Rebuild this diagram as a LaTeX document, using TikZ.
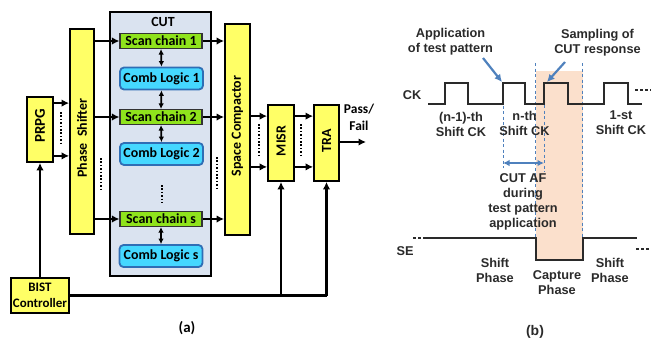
\documentclass[tikz,border=0pt]{standalone}
\usepackage{fontspec}
\setmainfont{Carlito}
\newfontfamily\arialb{Liberation Sans}
\usetikzlibrary{arrows.meta}
\definecolor{ybox}{HTML}{FFFF66}
\definecolor{gbox}{HTML}{8FE31C}
\definecolor{cbox}{HTML}{45D8FF}
\definecolor{cedge}{HTML}{2F6EB5}
\definecolor{cutfill}{HTML}{DAE3F0}
\definecolor{orshade}{HTML}{FBE0CC}
\definecolor{bluearr}{HTML}{4F81BD}
\definecolor{wave}{HTML}{2A2A2A}
\begin{document}
\begin{tikzpicture}[x=1bp,y=-1bp,
  lf/.style={font=\bfseries\fontsize{14}{16.5}\selectfont},
  rf/.style={font=\arialb\bfseries\fontsize{12.8}{15}\selectfont, text=wave, align=center, inner sep=0},
  ybx/.style={draw=black, line width=1.8bp, fill=ybox, inner sep=0},
  scx/.style={draw=black!80, line width=1.2bp, fill=gbox, inner sep=0, minimum width=82bp, minimum height=15bp, lf},
  clx/.style={draw=cedge, line width=1.8bp, fill=cbox, rounded corners=4bp, inner sep=0, minimum width=83bp, minimum height=22bp, lf},
  arr/.style={line width=2.3bp, -{Latex[length=7.5bp,width=7.5bp]}},
  biarr/.style={line width=1.7bp, {Latex[length=5.5bp,width=5.5bp]}-{Latex[length=5.5bp,width=5.5bp]}},
  ln/.style={line width=2.3bp},
  dots/.style={line width=2.5bp, dash pattern=on 1.6bp off 1.8bp},
  bdash/.style={draw=bluearr, line width=1bp, dash pattern=on 3bp off 2.5bp},
  barr/.style={draw=bluearr, line width=2.2bp, -{Latex[length=7.5bp,width=7.5bp]}},
  wv/.style={draw=wave, line width=1.9bp}]
\useasboundingbox (0,0) rectangle (651,340);
% ---------- (a) ----------
\node[draw=black, line width=1.8bp, fill=cutfill, minimum width=101bp, minimum height=264bp, inner sep=0] (cut) at (160.5,144) {};
\node[lf] (cutl) at (163,22) {CUT};
\node[scx] (sc1) at (161,41) {Scan chain 1};
\node[clx] (cl1) at (161.5,78.5) {Comb Logic 1};
\node[scx] (sc2) at (161,117) {Scan chain 2};
\node[clx] (cl2) at (161.5,154) {Comb Logic 2};
\node[scx] (scs) at (161,219) {Scan chain s};
\node[clx] (cls) at (161,256) {Comb Logic s};
\draw[biarr] (sc1.south) -- (cl1.north);
\draw[biarr] (cl1.south) -- (sc2.north);
\draw[biarr] (sc2.south) -- (cl2.north);
\draw[biarr] (scs.south) -- (cls.north);
\draw[dots] (162,185) -- (162,203);

\node[ybx, minimum width=24bp, minimum height=205bp] (ps) at (82,131.5) {};
\node[lf, rotate=90] (psl) at (82,138) {Phase\ \ Shifter};
\node[ybx, minimum width=26bp, minimum height=65bp] (prpg) at (40,129.5) {};
\node[lf, rotate=90, font=\bfseries\fontsize{15}{16.5}\selectfont] (prpgl) at (40,126) {PRPG};
\node[ybx, minimum width=58bp, minimum height=35bp, align=center, lf, font=\bfseries\fontsize{13}{16.5}\selectfont] (bist) at (40,295.5) {BIST\\Controller};
\node[ybx, minimum width=25bp, minimum height=211bp] (sco) at (237.5,129.5) {};
\node[lf, rotate=90] (scol) at (237.5,126) {Space Compactor};
\node[ybx, minimum width=26bp, minimum height=76bp] (misr) at (281,143) {};
\node[lf, rotate=90] (misrl) at (281,141) {MISR};
\node[ybx, minimum width=25bp, minimum height=76bp] (tra) at (326.5,143) {};
\node[lf, rotate=90] (tral) at (326.5,141) {TRA};
\node[lf, align=center, font=\bfseries\fontsize{13.5}{17}\selectfont] (pf) at (359,117) {Pass/\\Fail};
\coordinate (out) at (366,142);

\coordinate (p1) at ([yshift=-7bp]prpg.north east);
\coordinate (p2) at ([yshift=7bp]prpg.south east);
\draw[arr] (p1) -- (ps.west |- p1);
\draw[arr] (p2) -- (ps.west |- p2);
\draw[dots] (61,112) -- (61,144);
\foreach \s in {sc1,sc2,scs}{
  \draw[arr] (ps.east |- \s.west) -- (\s.west);
  \draw[arr] (\s.east) -- (sco.west |- \s.east);
}
\draw[dots] (101,158) -- (101,192);
\draw[dots] (217,157) -- (217,189);
\coordinate (m1) at ([yshift=-12bp]misr.north west);
\coordinate (m2) at ([yshift=15bp]misr.south west);
\coordinate (t1) at ([yshift=-12bp]tra.north west);
\coordinate (t2) at ([yshift=15bp]tra.south west);
\draw[arr] (sco.east |- m1) -- (m1);
\draw[arr] (sco.east |- m2) -- (m2);
\draw[arr] (misr.east |- t1) -- (t1);
\draw[arr] (misr.east |- t2) -- (t2);
\draw[dots] (259,124) -- (259,158);
\draw[dots] (301,124) -- (301,158);
\draw[arr] (tra.east |- out) -- (out);
\draw[arr] (bist.north) -- (prpg.south);
\coordinate (j1) at (misr.south |- bist.east);
\coordinate (j2) at (tra.south |- bist.east);
\draw[ln] (bist.east) -- (j2);
\draw[arr] (j1) -- (misr.south);
\draw[arr] (j2) -- (tra.south);
\node[lf, font=\bfseries\fontsize{15}{16.5}\selectfont] (la) at (187,328) {(a)};
% ---------- (b) ----------
\fill[orshade] (536,71) rectangle (583,260);
\draw[bdash] (503,100) -- (503,168);
\draw[bdash] (535,63) -- (535,238);
\draw[bdash] (544,83) -- (544,172);
\draw[bdash] (582,63) -- (582,238);
\draw[wv] (428,104) -- (445,104) -- (445,83) -- (468,83) -- (468,104) -- (503,104) -- (503,83) -- (525,83) -- (525,104) -- (544,104) -- (544,83) -- (568,83) -- (568,104) -- (604,104) -- (604,83) -- (628,83) -- (628,104) -- (642,104);
\draw[wv, dash pattern=on 3bp off 2bp] (635,90) -- (651,90);
\draw[wv] (423,238) -- (536,238) -- (536,260) -- (583,260) -- (583,238) -- (637,238);
\draw[wv, dash pattern=on 3bp off 2bp] (413,238) -- (423,238);
\draw[wv, dash pattern=on 3bp off 2bp] (636,249) -- (651,249);
\node[rf] (ck) at (412,95) {CK};
\node[rf] (se) at (405,251) {SE};
\node[rf] (app) at (450.5,41.5) {Application\\of test pattern};
\node[rf] (samp) at (597.5,43) {Sampling of\\CUT response};
\coordinate (ap) at (502,82);
\coordinate (sp) at (547,82);
\draw[barr] (483,58) -- (ap);
\draw[barr] (565,62) -- (sp);
\node[rf] (n1) at (461,124.5) {(n-1)-th\\Shift CK};
\node[rf] (n2) at (524.5,123) {n-th\\Shift CK};
\node[rf] (n3) at (621,122.5) {1-st\\Shift CK};
\coordinate (d1) at (503,163);
\coordinate (d2) at (544,163);
\draw[draw=bluearr, line width=2.2bp, {Latex[length=6.5bp,width=6.5bp]}-{Latex[length=6.5bp,width=6.5bp]}] (d1) -- (d2);
\node[rf] (af) at (523,202) {CUT AF\\during\\test pattern\\application};
\node[rf] (sh1) at (495,270) {Shift\\Phase};
\node[rf] (cap) at (557,282.5) {Capture\\Phase};
\node[rf] (sh2) at (610,270.5) {Shift\\Phase};
\node[rf, font=\arialb\bfseries\fontsize{14}{15}\selectfont] (lb) at (535,332) {(b)};
\end{tikzpicture}
\end{document}
